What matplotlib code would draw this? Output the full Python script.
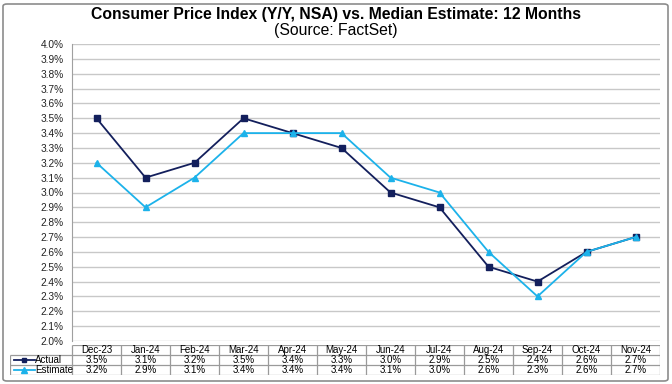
import matplotlib.pyplot as plt
from matplotlib.patches import FancyBboxPatch

plt.rcParams['font.family'] = ['Liberation Sans', 'DejaVu Sans']

months = ['Dec-23', 'Jan-24', 'Feb-24', 'Mar-24', 'Apr-24', 'May-24',
          'Jun-24', 'Jul-24', 'Aug-24', 'Sep-24', 'Oct-24', 'Nov-24']
actual = [3.5, 3.1, 3.2, 3.5, 3.4, 3.3, 3.0, 2.9, 2.5, 2.4, 2.6, 2.7]
estimate = [3.2, 2.9, 3.1, 3.4, 3.4, 3.4, 3.1, 3.0, 2.6, 2.3, 2.6, 2.7]
yticks = [2.0 + i * 0.1 for i in range(21)]

navy = '#131f5c'
light = '#1cb2ea'
grid = '#c8c8c8'

W, H = 672, 384
fig = plt.figure(figsize=(W / 100, H / 100), dpi=100)

# outer frame
fig.patches.append(FancyBboxPatch((3 / W, 3 / H), 665 / W, 377 / H,
                                  boxstyle='round,pad=0,rounding_size=0.006',
                                  transform=fig.transFigure, fill=False,
                                  edgecolor='#8c8c8c', linewidth=1.2))

fig.text(0.5, 1 - 15 / H, 'Consumer Price Index (Y/Y, NSA) vs. Median Estimate: 12 Months',
         ha='center', va='center', fontsize=11.3, fontweight='bold')
fig.text(0.5, 1 - 30 / H, '(Source: FactSet)', ha='center', va='center', fontsize=11.3)

left, right, top, bottom = 72, 660, 44, 341
ax = fig.add_axes([left / W, 1 - bottom / H, (right - left) / W, (bottom - top) / H])
x = range(len(months))
ax.plot(x, actual, color=navy, lw=1.3, marker='s', ms=4.2, zorder=3)
ax.plot(x, estimate, color=light, lw=1.3, marker='^', ms=4.8, zorder=3)
ax.set_xlim(-0.5, 11.5)
ax.set_ylim(2.0, 4.0)
ax.set_yticks(yticks)
ax.set_yticklabels([f'{v:.1f}%' for v in yticks], fontsize=7.3)
ax.set_xticks([])
ax.yaxis.grid(True, color=grid, lw=1)
ax.set_axisbelow(True)
for s in ['top', 'right', 'bottom']:
    ax.spines[s].set_visible(False)
ax.spines['left'].set_color('#a0a0a0')
ax.tick_params(axis='y', length=0, pad=6, colors='#222222')

# data table
tleft = 10
colw = (right - left) / 12
lw_units = (left - tleft) / colw
ttop, tbot = 345, 375
tab = fig.add_axes([tleft / W, 1 - tbot / H, (right - tleft) / W, (tbot - ttop) / H])
tab.set_xlim(-0.5 - lw_units, 11.5)
tab.set_ylim(3, 0)
tab.axis('off')
edge = '#9a9a9a'
fs = 7
tab.hlines([0], -0.5, 11.5, color=edge, lw=0.9)
tab.hlines([1, 2, 3], -0.5 - lw_units, 11.5, color=edge, lw=0.9)
tab.vlines([i - 0.5 for i in range(13)], 0, 3, color=edge, lw=0.9)
tab.vlines([-0.5 - lw_units], 1, 3, color=edge, lw=0.9)
for i, m in enumerate(months):
    tab.text(i, 0.5, m, ha='center', va='center', fontsize=fs)
    tab.text(i, 1.5, f'{actual[i]:.1f}%', ha='center', va='center', fontsize=fs)
    tab.text(i, 2.5, f'{estimate[i]:.1f}%', ha='center', va='center', fontsize=fs)
x0 = -0.5 - lw_units
tab.plot([x0 + 0.08, x0 + 0.5], [1.5, 1.5], color=navy, lw=1.3)
tab.plot([x0 + 0.29], [1.5], color=navy, marker='s', ms=3.5)
tab.plot([x0 + 0.08, x0 + 0.5], [2.5, 2.5], color=light, lw=1.3)
tab.plot([x0 + 0.29], [2.5], color=light, marker='^', ms=4)
tab.text(x0 + 0.52, 1.5, 'Actual', ha='left', va='center', fontsize=fs)
tab.text(x0 + 0.52, 2.5, 'Estimate', ha='left', va='center', fontsize=fs)

fig.savefig('out.png', dpi=100)
